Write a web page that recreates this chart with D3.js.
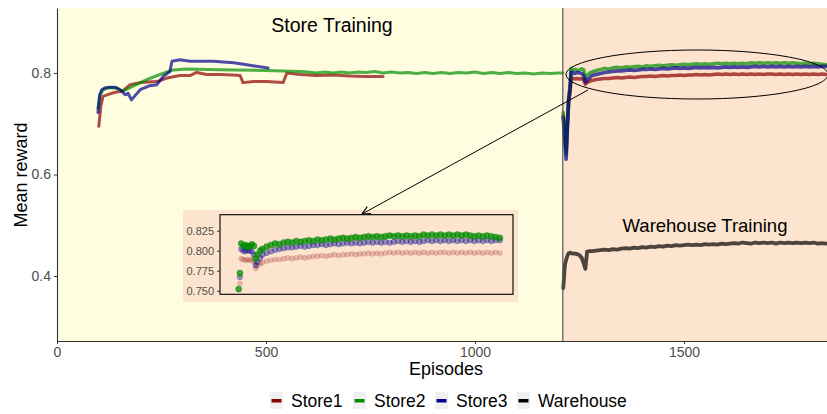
<!DOCTYPE html>
<html><head><meta charset="utf-8">
<script src="https://cdn.jsdelivr.net/npm/d3@7"></script>
<style>body{margin:0;background:#fff;font-family:"Liberation Sans",Arial,sans-serif;}</style>
</head><body>
<script>
// ---------- DATA ----------
const seriesNames = ["Store1","Store2","Store3","Warehouse"];
const seriesColors = ["#8B0000","#008B00","#00008B","#000000"];
const phaseBreak = 1210;
const xTicks = [0,500,1000,1500];
const yTicks = [0.4,0.6,0.8];
const insetYTicks = [0.750,0.775,0.800,0.825];

// Phase 1 : store training
const s1Ep1 = [100,105,110,120,135,158,175,199,239,263,294,318,334,358,390,420,438,445,470,502,520,541,550,581,620,660,700,740,780];
const s1Val1 = [0.695,0.735,0.754,0.757,0.761,0.765,0.777,0.781,0.783,0.790,0.795,0.795,0.801,0.797,0.797,0.796,0.795,0.781,0.783,0.783,0.782,0.781,0.800,0.797,0.795,0.796,0.794,0.793,0.793];
const s2Ep1 = [98,103,110,125,143,158,182,215,246,278,311,360,422,500,581,600,620,640,660,680,700,720,740,760,780,800,820,840,860,880,900,920,940,960,980,1000,1020,1040,1060,1080,1100,1120,1140,1160,1180,1200,1210];
const s2Val1 = [0.731,0.755,0.767,0.771,0.770,0.764,0.774,0.787,0.797,0.806,0.808,0.807,0.806,0.805,0.803,0.802,0.800,0.802,0.800,0.802,0.800,0.802,0.801,0.803,0.800,0.802,0.800,0.801,0.799,0.801,0.799,0.801,0.799,0.801,0.800,0.802,0.799,0.801,0.799,0.801,0.799,0.800,0.798,0.800,0.799,0.800,0.800];
const s3Ep1 = [98,102,107,115,125,139,151,163,170,178,199,222,239,254,270,275,294,318,374,422,454,480,505];
const s3Val1 = [0.722,0.757,0.767,0.771,0.772,0.772,0.767,0.757,0.760,0.747,0.767,0.775,0.777,0.793,0.803,0.823,0.826,0.823,0.823,0.820,0.816,0.813,0.810];

// Phase 2 : warehouse training
const ep2 = [1211,1215,1218,1221,1224,1227,1230,1235,1240,1245,1250,1255,1260,1264,1268,1275,1280,1290,1300,1310,1320,1330,1340,1350,1360,1370,1380,1390,1400,1410,1420,1430,1440,1450,1460,1470,1480,1490,1500,1510,1520,1530,1540,1550,1560,1570,1580,1590,1600,1610,1620,1630,1640,1650,1660,1670,1680,1690,1700,1710,1720,1730,1740,1750,1760,1770,1780,1790,1800,1810,1820,1830,1840];
const s1Val2 = [0.715,0.680,0.650,0.700,0.745,0.759,0.790,0.789,0.788,0.789,0.788,0.789,0.786,0.778,0.781,0.784,0.785,0.787,0.788,0.789,0.789,0.790,0.791,0.790,0.791,0.792,0.791,0.792,0.793,0.793,0.794,0.793,0.794,0.795,0.794,0.795,0.795,0.796,0.795,0.796,0.796,0.797,0.796,0.797,0.796,0.797,0.798,0.797,0.798,0.797,0.798,0.797,0.798,0.797,0.798,0.797,0.798,0.797,0.798,0.798,0.797,0.798,0.797,0.798,0.797,0.798,0.797,0.798,0.797,0.798,0.797,0.798,0.797];
const s2Val2 = [0.722,0.672,0.640,0.700,0.752,0.772,0.809,0.806,0.807,0.805,0.806,0.808,0.806,0.790,0.795,0.800,0.802,0.805,0.807,0.809,0.808,0.810,0.811,0.810,0.812,0.811,0.812,0.813,0.812,0.814,0.813,0.814,0.815,0.814,0.815,0.816,0.815,0.816,0.817,0.816,0.817,0.818,0.817,0.818,0.817,0.818,0.819,0.818,0.819,0.818,0.819,0.818,0.819,0.818,0.820,0.819,0.820,0.819,0.820,0.819,0.820,0.819,0.820,0.819,0.820,0.819,0.818,0.819,0.818,0.819,0.818,0.817,0.816];
const s3Val2 = [0.712,0.665,0.630,0.690,0.745,0.767,0.802,0.800,0.799,0.801,0.800,0.799,0.795,0.782,0.786,0.791,0.795,0.797,0.799,0.801,0.802,0.803,0.804,0.804,0.805,0.806,0.805,0.806,0.807,0.807,0.808,0.807,0.808,0.809,0.808,0.809,0.810,0.809,0.810,0.809,0.810,0.811,0.810,0.811,0.810,0.811,0.810,0.811,0.812,0.811,0.812,0.811,0.812,0.811,0.812,0.813,0.812,0.813,0.812,0.813,0.812,0.813,0.812,0.813,0.812,0.813,0.812,0.813,0.812,0.813,0.812,0.813,0.813];
const whVal2 = [0.376,0.422,0.432,0.440,0.445,0.446,0.445,0.444,0.444,0.443,0.441,0.436,0.425,0.414,0.448,0.449,0.449,0.450,0.451,0.452,0.451,0.453,0.452,0.454,0.455,0.454,0.456,0.455,0.457,0.456,0.458,0.457,0.459,0.458,0.460,0.459,0.461,0.460,0.461,0.462,0.461,0.462,0.461,0.463,0.462,0.463,0.462,0.464,0.463,0.464,0.465,0.464,0.466,0.465,0.464,0.466,0.465,0.466,0.465,0.466,0.464,0.466,0.465,0.466,0.465,0.466,0.465,0.466,0.465,0.466,0.464,0.465,0.464];

// ---------- DRAW ----------
const W = 827, H = 414;
const svg = d3.select("body").append("svg").attr("width", W).attr("height", H);
const font = '"Liberation Sans",Arial,sans-serif';

const x = d3.scaleLinear().domain([0, 1842]).range([57, 827]);
const y = d3.scaleLinear().domain([0.272, 0.928]).range([341, 8]);

const yellow = "#FFFDE0", peach = "#FDE4CE";
svg.append("rect").attr("x", x(0)).attr("y", y(0.928)).attr("width", x(phaseBreak) - x(0)).attr("height", y(0.272) - y(0.928)).attr("fill", yellow);
svg.append("rect").attr("x", x(phaseBreak)).attr("y", y(0.928)).attr("width", x(1842) - x(phaseBreak)).attr("height", y(0.272) - y(0.928)).attr("fill", peach);

svg.append("defs").append("clipPath").attr("id", "clip").append("rect")
  .attr("x", 57).attr("y", 8).attr("width", 770).attr("height", 333);

const zip = (ep, v) => ep.map((e, i) => [e, v[i]]);
const line = d3.line().x(d => x(d[0])).y(d => y(d[1]));
const g = svg.append("g").attr("clip-path", "url(#clip)");

const mainSeries = [
  [zip(s1Ep1, s1Val1), 0, 3], [zip(s2Ep1, s2Val1), 1, 3], [zip(s3Ep1, s3Val1), 2, 3],
  [zip(ep2, s1Val2), 0, 3.6], [zip(ep2, s2Val2), 1, 3.6], [zip(ep2, s3Val2), 2, 3.6], [zip(ep2, whVal2), 3, 3.8]
];
mainSeries.forEach(([d, ci, sw]) => {
  g.append("path").datum(d).attr("d", line).attr("fill", "none")
    .attr("stroke", seriesColors[ci]).attr("stroke-opacity", 0.7)
    .attr("stroke-width", sw).attr("stroke-linejoin", "round").attr("stroke-linecap", "round");
});

// phase separator
svg.append("line").attr("x1", x(phaseBreak)).attr("x2", x(phaseBreak)).attr("y1", y(0.928)).attr("y2", y(0.272))
  .attr("stroke", "#555").attr("stroke-width", 1.2);

// axes
const xAxis = svg.append("g").attr("transform", `translate(0,${y(0.272)})`)
  .call(d3.axisBottom(x).tickValues(xTicks).tickFormat(d3.format("d")).tickSize(3).tickSizeOuter(0));
const yAxis = svg.append("g").attr("transform", `translate(${x(0)},0)`)
  .call(d3.axisLeft(y).tickValues(yTicks).tickFormat(d3.format(".1f")).tickSize(3).tickSizeOuter(0));
[xAxis, yAxis].forEach(a => {
  a.select(".domain").attr("stroke", "#333").attr("stroke-width", 1.1);
  a.selectAll(".tick line").attr("stroke", "#333");
  a.selectAll(".tick text").attr("fill", "#4d4d4d").style("font-size", "14px").style("font-family", font);
});

svg.append("text").attr("x", 446).attr("y", 375).attr("text-anchor", "middle")
  .style("font-size", "18px").style("font-family", font).text("Episodes");
svg.append("text").attr("transform", "translate(27,175) rotate(-90)").attr("text-anchor", "middle")
  .style("font-size", "18px").style("font-family", font).text("Mean reward");

svg.append("text").attr("x", 332).attr("y", 32).attr("text-anchor", "middle")
  .style("font-size", "19.5px").style("font-family", font).text("Store Training");
svg.append("text").attr("x", 705).attr("y", 232).attr("text-anchor", "middle")
  .style("font-size", "18.5px").style("font-family", font).text("Warehouse Training");

// ---------- INSET ----------
svg.append("rect").attr("x", 183).attr("y", 210).attr("width", 335).attr("height", 92).attr("fill", peach);
const ix = d3.scaleLinear().domain([1180, 1871]).range([220, 513]);
const iy = d3.scaleLinear().domain([0.7455, 0.845]).range([294.3, 214.7]);
svg.append("rect").attr("x", 220).attr("y", 214.7).attr("width", 293).attr("height", 79.6)
  .attr("fill", peach).attr("stroke", "#000").attr("stroke-width", 1.1);
const insetAxis = svg.append("g").attr("transform", "translate(220,0)")
  .call(d3.axisLeft(iy).tickValues(insetYTicks).tickFormat(d3.format(".3f")).tickSize(3).tickSizeOuter(0));
insetAxis.select(".domain").remove();
insetAxis.selectAll(".tick line").attr("stroke", "#333");
insetAxis.selectAll(".tick text").attr("fill", "#4d4d4d").style("font-size", "11px").style("font-family", font);

const insetSets = [[s1Val2, 0, 0.2, 2.6], [s3Val2, 2, 0.4, 2.8], [s2Val2, 1, 0.75, 3.1]];
insetSets.forEach(([vals, ci, op, r]) => {
  const pts = zip(ep2, vals).filter(d => d[1] >= 0.7455 && d[1] <= 0.845);
  svg.append("g").selectAll("circle").data(pts).join("circle")
    .attr("cx", d => ix(d[0])).attr("cy", d => iy(d[1])).attr("r", r)
    .attr("fill", seriesColors[ci]).attr("fill-opacity", op)
    .attr("stroke", seriesColors[ci]).attr("stroke-opacity", op * 0.8).attr("stroke-width", 0.6);
});

// ellipse & arrow
svg.append("ellipse").attr("cx", 697).attr("cy", 74.5).attr("rx", 131).attr("ry", 24.5)
  .attr("fill", "none").attr("stroke", "#000").attr("stroke-width", 1);
const ax1 = 588, ay1 = 90, ax2 = 362, ay2 = 214;
svg.append("line").attr("x1", ax1).attr("y1", ay1).attr("x2", ax2).attr("y2", ay2)
  .attr("stroke", "#000").attr("stroke-width", 1);
const ang = Math.atan2(ay2 - ay1, ax2 - ax1), L = 9, spread = 0.45;
svg.append("path")
  .attr("d", `M${ax2 - L * Math.cos(ang - spread)},${ay2 - L * Math.sin(ang - spread)} L${ax2},${ay2} L${ax2 - L * Math.cos(ang + spread)},${ay2 - L * Math.sin(ang + spread)}`)
  .attr("fill", "none").attr("stroke", "#000").attr("stroke-width", 1.2);

// ---------- LEGEND ----------
const legX = [270, 353, 435, 517];
const leg = svg.append("g");
seriesNames.forEach((n, i) => {
  leg.append("rect").attr("x", legX[i]).attr("y", 392).attr("width", 13).attr("height", 17).attr("fill", "#f0f0f0");
  leg.append("rect").attr("x", legX[i] + 1.5).attr("y", 399).attr("width", 10).attr("height", 3.5).attr("fill", seriesColors[i]);
  leg.append("text").attr("x", legX[i] + 21).attr("y", 407).style("font-size", "17.5px").style("font-family", font).text(n);
});
</script>
</body></html>
